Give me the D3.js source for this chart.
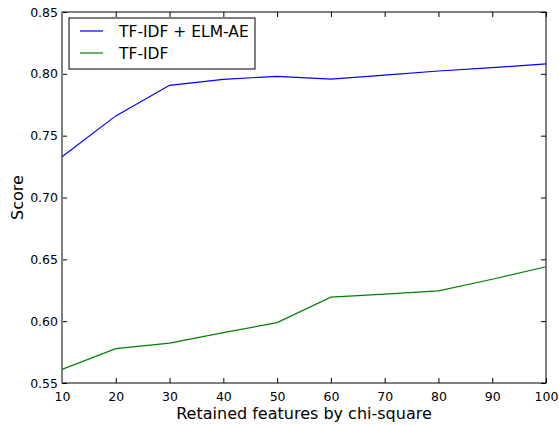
<!DOCTYPE html>
<html>
<head>
<meta charset="utf-8">
<script src="https://cdn.jsdelivr.net/npm/d3@7"></script>
<style>
  body { margin: 0; background: #fff; }
  text { font-family: "DejaVu Sans", sans-serif; fill: #000; }
</style>
</head>
<body>
<svg id="chart" width="559" height="425"></svg>
<script>
// features retained by chi-square
const features = [10, 20, 30, 40, 50, 60, 70, 80, 90, 100];
const elmScores = [0.733, 0.766, 0.7907, 0.7955, 0.798, 0.7958, 0.799, 0.8023, 0.805, 0.808];
const tfidfScores = [0.561, 0.5778, 0.5822, 0.5907, 0.5988, 0.6194, 0.6218, 0.6245, 0.6339, 0.6440];
const seriesNames = ["TF-IDF + ELM-AE", "TF-IDF"];
const xTicks = [10, 20, 30, 40, 50, 60, 70, 80, 90, 100];
const yTicks = [0.55, 0.60, 0.65, 0.70, 0.75, 0.80, 0.85];

let margin = { top: 12, right: 13, bottom: 42, left: 62 };
let svg = d3.select("#chart");
let width = 559 - margin.left - margin.right;
let height = 425 - margin.top - margin.bottom;
let g = svg.append("g").attr("transform", "translate(" + margin.left + "," + margin.top + ")");

let xScale = d3.scaleLinear().domain([10, 100]).range([0, width]);
let yScale = d3.scaleLinear().domain([0.55, 0.85]).range([height, 0]);

// ticks point inward on all four sides, like matplotlib classic
let tickLen = 5;
g.append("g")
    .attr("transform", "translate(0," + height + ")")
    .call(d3.axisBottom(xScale).tickValues(xTicks).tickSize(-tickLen).tickPadding(9).tickFormat(d3.format("d")))
    .call(a => a.select(".domain").remove());
g.append("g")
    .call(d3.axisTop(xScale).tickValues(xTicks).tickSize(-tickLen).tickFormat(""))
    .call(a => a.select(".domain").remove());
g.append("g")
    .call(d3.axisLeft(yScale).tickValues(yTicks).tickSize(-tickLen).tickPadding(4).tickFormat(d3.format(".2f")))
    .call(a => a.select(".domain").remove());
g.append("g")
    .attr("transform", "translate(" + width + ",0)")
    .call(d3.axisRight(yScale).tickValues(yTicks).tickSize(-tickLen).tickFormat(""))
    .call(a => a.select(".domain").remove());

g.selectAll(".tick text").style("font-size", "12.5px").style("font-family", "DejaVu Sans");

// frame
g.append("rect")
    .attr("width", width).attr("height", height)
    .attr("fill", "none").attr("stroke", "#000").attr("stroke-width", 1);
g.append("line")
    .attr("x1", 0).attr("x2", 0).attr("y1", 0).attr("y2", height)
    .attr("stroke", "#808080").attr("stroke-width", 2);

let line = d3.line()
    .x((d, i) => xScale(features[i]))
    .y(d => yScale(d));

let colors = ["#0000ff", "#008000"];
[elmScores, tfidfScores].forEach(function (vals, i) {
    g.append("path")
        .datum(vals)
        .attr("fill", "none")
        .attr("stroke", colors[i])
        .attr("stroke-width", 1.2)
        .attr("d", line);
});

// legend
let lg = g.append("g").attr("transform", "translate(7,6)");
lg.append("rect")
    .attr("width", 186).attr("height", 51)
    .attr("fill", "#fff").attr("stroke", "#000").attr("stroke-width", 1);
seriesNames.forEach(function (name, i) {
    let y = 13 + i * 22;
    lg.append("line")
        .attr("x1", 11).attr("x2", 34).attr("y1", y).attr("y2", y)
        .attr("stroke", colors[i]).attr("stroke-width", 1.2);
    lg.append("text")
        .attr("x", 50).attr("y", y).attr("dy", "0.36em")
        .style("font-size", "15.5px")
        .text(name);
});

// axis labels
svg.append("text")
    .attr("x", margin.left + width / 2).attr("y", 419)
    .attr("text-anchor", "middle")
    .style("font-size", "16px")
    .text("Retained features by chi-square");
svg.append("text")
    .attr("transform", "translate(23," + (margin.top + height / 2) + ") rotate(-90)")
    .attr("text-anchor", "middle")
    .style("font-size", "16px")
    .text("Score");
</script>
</body>
</html>
